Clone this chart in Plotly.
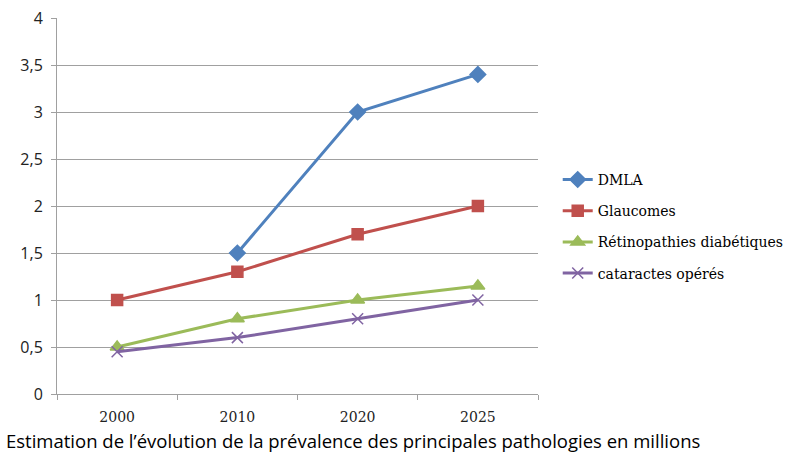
import plotly.graph_objects as go

years = ["2000", "2010", "2020", "2025"]
dmla = [None, 1.5, 3.0, 3.4]
glaucomes = [1.0, 1.3, 1.7, 2.0]
retinopathies = [0.5, 0.8, 1.0, 1.15]
cataractes = [0.45, 0.6, 0.8, 1.0]

series = [
    ("DMLA", dmla, "#4F81BD", "diamond", 12),
    ("Glaucomes", glaucomes, "#C0504D", "square", 11),
    ("Rétinopathies diabétiques", retinopathies, "#9BBB59", "triangle-up", 12),
    ("cataractes opérés", cataractes, "#8064A2", "x-thin-open", 11),
]

fig = go.Figure()
for i, (name, vals, col, sym, sz) in enumerate(series):
    fig.add_trace(go.Scatter(
        x=years, y=vals, name=name, mode="lines+markers",
        line=dict(color=col, width=3),
        marker=dict(symbol=sym, size=sz, color=col, line=dict(color=col, width=1.5)),
        legendgroup=str(i),
    ))

fig.update_layout(
    width=792, height=457,
    margin=dict(l=57, r=254, t=18, b=63, autoexpand=False),
    paper_bgcolor="white", plot_bgcolor="white",
    separators=", ",
    showlegend=True,
    legend=dict(x=1.041, y=0.612, xanchor="left", yanchor="top",
                font=dict(family="DejaVu Serif", size=14, color="black"),
                tracegroupgap=10, bgcolor="rgba(0,0,0,0)"),
    xaxis=dict(type="category", tickson="boundaries", ticks="outside", ticklen=5,
               tickcolor="#A0A0A0", showline=True, linecolor="#A0A0A0", linewidth=1,
               showgrid=False, tickfont=dict(family="DejaVu Serif", size=14, color="#222"),
               ticklabelstandoff=10,
               range=[-0.5, 3.5], automargin=False),
    yaxis=dict(range=[0, 4], dtick=0.5, ticks="outside", ticklen=5, tickcolor="#A0A0A0",
               showline=True, linecolor="#A0A0A0", linewidth=1,
               gridcolor="#A0A0A0", gridwidth=1, zeroline=False, automargin=False,
               ticklabelstandoff=5,
               tickfont=dict(family="Open Sans", size=16, color="#222")),
    annotations=[dict(text="Estimation de l’évolution de la prévalence des principales pathologies en millions",
                      xref="paper", yref="paper", x=-52/481, y=-0.088, xanchor="left", yanchor="top",
                      borderpad=0,
                      showarrow=False, font=dict(family="Open Sans", size=18.5, color="black"))],
)

fig.write_html("out.html", config={"displayModeBar": False},
               post_script="document.body.style.margin='0';document.body.style.overflow='hidden';")
